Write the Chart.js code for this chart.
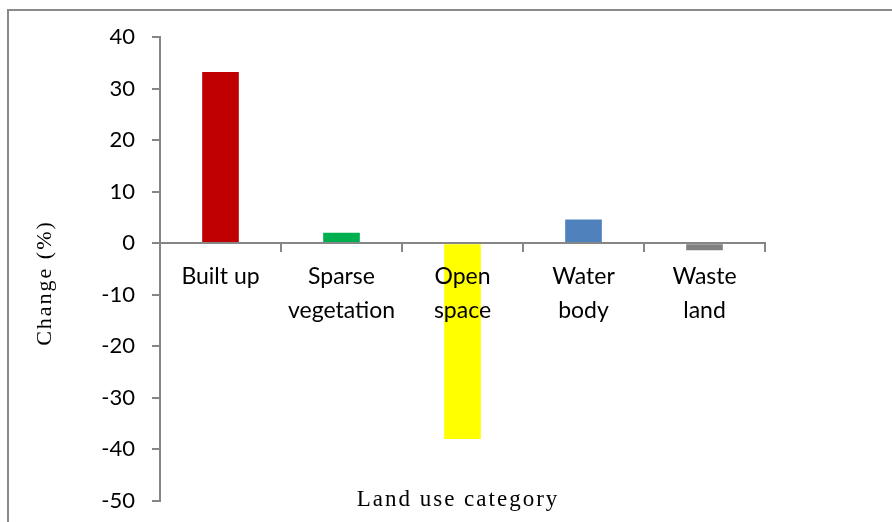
<!DOCTYPE html>
<html lang="en">
<head>
    <meta charset="UTF-8">
    <title>Land use change</title>
    <script src="https://cdn.jsdelivr.net/npm/chart.js"></script>
    <style>
        body {
            margin: 0;
            padding: 0;
            background: #fff;
            overflow: hidden;
        }
        .wrap {
            position: relative;
            width: 892px;
            height: 531px;
        }
        /* frame of the original figure, only top and left edges are visible */
        .frame {
            position: absolute;
            left: 7px;
            top: 9px;
            width: 1000px;
            height: 600px;
            border-top: 2px solid #8a8a8a;
            border-left: 2px solid #8a8a8a;
            pointer-events: none;
        }
    </style>
</head>
<body>
    <div class="wrap">
        <canvas id="landChart"></canvas>
        <div class="frame"></div>
    </div>

    <script>
        // Data
        const categories = [['Built up'], ['Sparse', 'vegetation'], ['Open', 'space'], ['Water', 'body'], ['Waste', 'land']];
        const changeValues = [33.2, 2.0, -38.0, 4.6, -1.4];
        const yMin = -50;
        const yMax = 40;
        const yStep = 10;

        const axisGrey = '#868686';

        // axis titles drawn where the original has them
        const axisTitles = {
            id: 'axisTitles',
            afterDraw(chart) {
                const ctx = chart.ctx;
                ctx.save();
                ctx.fillStyle = '#000';
                ctx.textAlign = 'center';
                ctx.textBaseline = 'middle';
                ctx.font = '23px "Liberation Serif"';
                ctx.letterSpacing = '2px';
                ctx.fillText('Land use category', 458, 500);

                ctx.translate(45, 283);
                ctx.rotate(-Math.PI / 2);
                ctx.font = '22px "Liberation Serif"';
                ctx.letterSpacing = '2px';
                ctx.fillText('Change (%)', 0, 0);
                ctx.restore();
            }
        };

        const ctx = document.getElementById('landChart').getContext('2d');
        new Chart(ctx, {
            type: 'bar',
            data: {
                labels: categories,
                datasets: [{
                    data: changeValues,
                    backgroundColor: ['#C00000', '#00B050', '#FFFF00', '#4F81BD', '#808080'],
                    borderWidth: 0,
                    barPercentage: 0.303,
                    categoryPercentage: 1.0
                }]
            },
            options: {
                responsive: true,
                maintainAspectRatio: false,
                animation: false,
                layout: {
                    padding: { left: 0, right: 127, top: 37, bottom: 13 }
                },
                plugins: {
                    legend: { display: false },
                    tooltip: { enabled: false }
                },
                scales: {
                    x: {
                        position: { y: 0 },
                        grid: {
                            display: true,
                            offset: true,
                            drawOnChartArea: false,
                            drawTicks: true,
                            tickLength: 8,
                            color: axisGrey,
                            lineWidth: 2,
                            z: 1
                        },
                        border: { display: true, color: axisGrey, width: 2, z: 1 },
                        ticks: {
                            z: 1,
                            color: '#000',
                            padding: 9,
                            maxRotation: 0,
                            autoSkip: false,
                            font: { family: 'Lato', size: 23, lineHeight: 1.45 }
                        }
                    },
                    y: {
                        min: yMin,
                        max: yMax,
                        afterFit(scale) {
                            scale.width = 160;
                        },
                        grid: {
                            display: true,
                            drawOnChartArea: false,
                            drawTicks: true,
                            tickLength: 8,
                            color: axisGrey,
                            lineWidth: 2
                        },
                        border: { display: true, color: axisGrey, width: 2 },
                        ticks: {
                            stepSize: yStep,
                            color: '#000',
                            padding: 17,
                            font: { family: 'Lato', size: 22 }
                        }
                    }
                }
            },
            plugins: [axisTitles]
        });
    </script>
</body>
</html>
